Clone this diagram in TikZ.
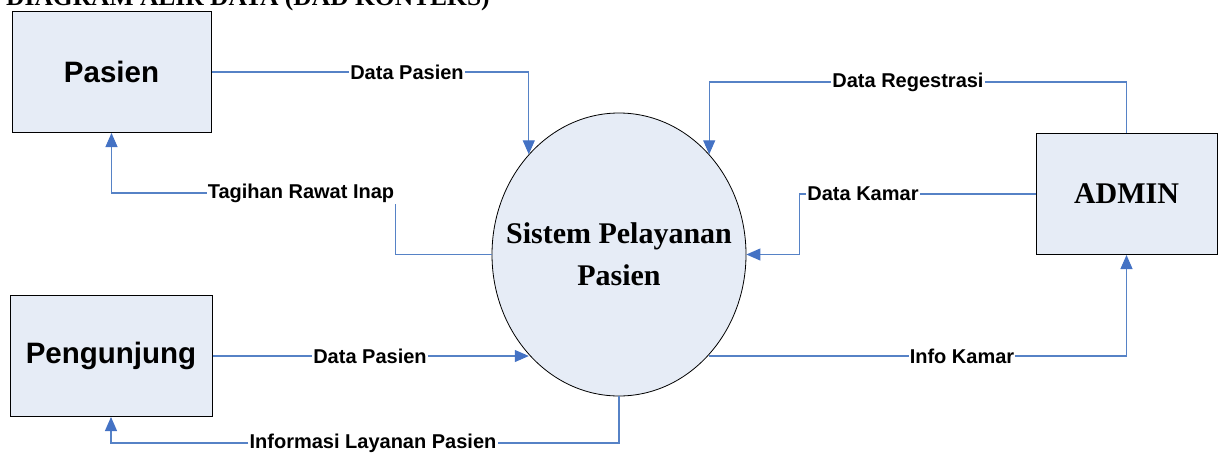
\documentclass[tikz,border=0pt]{standalone}
\usepackage{fontspec}
\setmainfont{Liberation Serif}
\newfontfamily\arialfont{Liberation Sans}
\usetikzlibrary{shapes.geometric,arrows.meta}
\definecolor{isikotak}{RGB}{230,236,246}
\definecolor{garis}{RGB}{86,130,198}
\definecolor{panah}{RGB}{68,114,196}

\begin{document}
\begin{tikzpicture}[x=1pt,y=-1pt,
    entitas/.style={draw=black,line width=1pt,fill=isikotak,inner sep=0pt,minimum height=121pt},
    proses/.style={ellipse,draw=black,line width=0.8pt,fill=isikotak,inner sep=0pt,minimum width=254pt,minimum height=283pt},
    ket/.style={fill=white,inner sep=1pt,font=\arialfont\bfseries\fontsize{20}{24}\selectfont},
    alir/.style={draw=garis,line width=1.1pt},
    panahalir/.style={alir,-{Triangle[length=14pt,width=12pt,color=panah]}}]
    \useasboundingbox (0,0) rectangle (1224,456);
    % judul, terpotong di tepi atas
    \node[anchor=base west,inner sep=0pt,font=\bfseries\fontsize{25.5}{30}\selectfont] (judul) at (6,5.5) {DIAGRAM ALIR DATA (DAD KONTEKS)};

    % entitas luar dan proses
    \node[entitas,minimum width=199pt,font=\arialfont\bfseries\fontsize{29.5}{34}\selectfont] (pasien) at (111.5,72) {Pasien};
    \node[entitas,minimum width=202pt,font=\arialfont\bfseries\fontsize{29.5}{34}\selectfont] (pengunjung) at (111,356) {Pengunjung};
    \node[entitas,minimum width=181pt,font=\bfseries\fontsize{30}{36}\selectfont] (admin) at (1126.5,194) {ADMIN};
    \node[proses] (sistem) at (619,254.5) {};
    \node[align=center,font=\bfseries\fontsize{30}{42}\selectfont] (sistemteks) at (sistem.center) {Sistem Pelayanan\\Pasien};

    % label aliran data
    \node[ket] (dpasien1) at (407,72) {Data Pasien};
    \node[ket] (tagihan) at (301,193) {Tagihan Rawat Inap};
    \node[ket] (regestrasi) at (908,82) {Data Regestrasi};
    \node[ket] (kamar) at (863,194) {Data Kamar};
    \node[ket] (dpasien2) at (370,356) {Data Pasien};
    \node[ket] (infokamar) at (962,356) {Info Kamar};
    \node[ket] (layanan) at (373,443) {Informasi Layanan Pasien};

    % aliran data
    \draw[alir] (pasien.east) -- (dpasien1.west);
    \draw[panahalir] (dpasien1.east) -| (sistem.132);
    \draw[alir] (sistem.west) -| (tagihan.south east);
    \draw[panahalir] (tagihan.west) -| (pasien.south);
    \draw[alir] (admin.north) |- (regestrasi.east);
    \draw[panahalir] (regestrasi.west) -| (sistem.48);
    \draw[alir] (admin.west) -- (kamar.east);
    \draw[panahalir] (kamar.west) -- ++(-7,0) |- (sistem.east);
    \draw[alir] (pengunjung.east) -- (dpasien2.west);
    \draw[panahalir] (dpasien2.east) -- (sistem.228 |- dpasien2.east);
    \draw[alir] (sistem.-48 |- infokamar.west) -- (infokamar.west);
    \draw[panahalir] (infokamar.east) -| (admin.south);
    \draw[alir] (sistem.south) |- (layanan.east);
    \draw[panahalir] (layanan.west) -| (pengunjung.south);
\end{tikzpicture}
\end{document}
